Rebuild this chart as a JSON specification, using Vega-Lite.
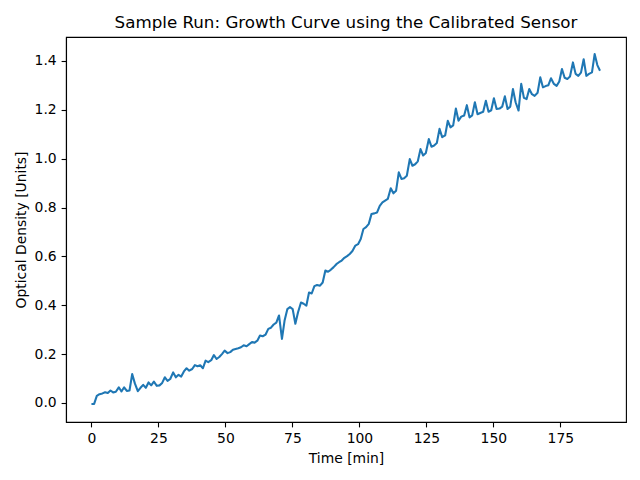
{
  "$schema": "https://vega.github.io/schema/vega-lite/v6.json",
  "autosize": {"type": "none"},
  "width": 560,
  "height": 385,
  "padding": {"left": 66, "top": 37, "right": 14, "bottom": 58},
  "background": "white",
  "title": {
    "text": "Sample Run: Growth Curve using the Calibrated Sensor",
    "font": "DejaVu Sans",
    "fontSize": 16.7,
    "fontWeight": "normal",
    "color": "black",
    "anchor": "middle",
    "offset": 5
  },
  "data": {
    "values": [
      {"t": 0, "v": -0.004}, {"t": 1.0, "v": -0.004}, {"t": 2.0, "v": 0.029}, {"t": 3.0, "v": 0.036},
      {"t": 4.1, "v": 0.039}, {"t": 5.1, "v": 0.044}, {"t": 6.1, "v": 0.041}, {"t": 7.1, "v": 0.051},
      {"t": 8.1, "v": 0.043}, {"t": 9.1, "v": 0.046}, {"t": 10.2, "v": 0.064}, {"t": 11.2, "v": 0.047},
      {"t": 12.2, "v": 0.064}, {"t": 13.2, "v": 0.049}, {"t": 14.2, "v": 0.051}, {"t": 15.2, "v": 0.118},
      {"t": 16.2, "v": 0.080}, {"t": 17.3, "v": 0.048}, {"t": 18.3, "v": 0.062}, {"t": 19.3, "v": 0.074},
      {"t": 20.3, "v": 0.062}, {"t": 21.3, "v": 0.084}, {"t": 22.3, "v": 0.072}, {"t": 23.3, "v": 0.087},
      {"t": 24.4, "v": 0.070}, {"t": 25.4, "v": 0.072}, {"t": 26.4, "v": 0.082}, {"t": 27.4, "v": 0.105},
      {"t": 28.4, "v": 0.090}, {"t": 29.4, "v": 0.098}, {"t": 30.5, "v": 0.125}, {"t": 31.5, "v": 0.105},
      {"t": 32.5, "v": 0.115}, {"t": 33.5, "v": 0.108}, {"t": 34.5, "v": 0.129}, {"t": 35.5, "v": 0.142},
      {"t": 36.5, "v": 0.132}, {"t": 37.6, "v": 0.139}, {"t": 38.6, "v": 0.155}, {"t": 39.6, "v": 0.150},
      {"t": 40.6, "v": 0.154}, {"t": 41.6, "v": 0.142}, {"t": 42.6, "v": 0.173}, {"t": 43.6, "v": 0.167},
      {"t": 44.7, "v": 0.175}, {"t": 45.7, "v": 0.196}, {"t": 46.7, "v": 0.180}, {"t": 47.7, "v": 0.188},
      {"t": 48.7, "v": 0.200}, {"t": 49.7, "v": 0.214}, {"t": 50.8, "v": 0.204}, {"t": 51.8, "v": 0.208},
      {"t": 52.8, "v": 0.218}, {"t": 53.8, "v": 0.221}, {"t": 54.8, "v": 0.224}, {"t": 55.8, "v": 0.228},
      {"t": 56.8, "v": 0.236}, {"t": 57.9, "v": 0.232}, {"t": 58.9, "v": 0.241}, {"t": 59.9, "v": 0.249},
      {"t": 60.9, "v": 0.247}, {"t": 61.9, "v": 0.255}, {"t": 62.9, "v": 0.276}, {"t": 63.9, "v": 0.273},
      {"t": 65.0, "v": 0.280}, {"t": 66.0, "v": 0.303}, {"t": 67.0, "v": 0.308}, {"t": 68.0, "v": 0.321},
      {"t": 69.0, "v": 0.329}, {"t": 70.0, "v": 0.358}, {"t": 71.1, "v": 0.262}, {"t": 72.1, "v": 0.339},
      {"t": 73.1, "v": 0.384}, {"t": 74.1, "v": 0.392}, {"t": 75.1, "v": 0.384}, {"t": 76.1, "v": 0.324},
      {"t": 77.1, "v": 0.371}, {"t": 78.2, "v": 0.411}, {"t": 79.2, "v": 0.406}, {"t": 80.2, "v": 0.398},
      {"t": 81.2, "v": 0.452}, {"t": 82.2, "v": 0.448}, {"t": 83.2, "v": 0.478}, {"t": 84.2, "v": 0.483},
      {"t": 85.3, "v": 0.480}, {"t": 86.3, "v": 0.493}, {"t": 87.3, "v": 0.542}, {"t": 88.3, "v": 0.537},
      {"t": 89.3, "v": 0.545}, {"t": 90.3, "v": 0.555}, {"t": 91.4, "v": 0.568}, {"t": 92.4, "v": 0.576},
      {"t": 93.4, "v": 0.583}, {"t": 94.4, "v": 0.594}, {"t": 95.4, "v": 0.601}, {"t": 96.4, "v": 0.610},
      {"t": 97.4, "v": 0.622}, {"t": 98.5, "v": 0.644}, {"t": 99.5, "v": 0.650}, {"t": 100.5, "v": 0.671},
      {"t": 101.5, "v": 0.712}, {"t": 102.5, "v": 0.720}, {"t": 103.5, "v": 0.733}, {"t": 104.5, "v": 0.773},
      {"t": 105.6, "v": 0.776}, {"t": 106.6, "v": 0.780}, {"t": 107.6, "v": 0.807}, {"t": 108.6, "v": 0.821},
      {"t": 109.6, "v": 0.828}, {"t": 110.6, "v": 0.835}, {"t": 111.7, "v": 0.879}, {"t": 112.7, "v": 0.858},
      {"t": 113.7, "v": 0.869}, {"t": 114.7, "v": 0.944}, {"t": 115.7, "v": 0.917}, {"t": 116.7, "v": 0.920},
      {"t": 117.7, "v": 0.930}, {"t": 118.8, "v": 0.998}, {"t": 119.8, "v": 0.971}, {"t": 120.8, "v": 0.977},
      {"t": 121.8, "v": 0.989}, {"t": 122.8, "v": 1.039}, {"t": 123.8, "v": 1.013}, {"t": 124.8, "v": 1.023},
      {"t": 125.9, "v": 1.080}, {"t": 126.9, "v": 1.049}, {"t": 127.9, "v": 1.054}, {"t": 128.9, "v": 1.064},
      {"t": 129.9, "v": 1.122}, {"t": 130.9, "v": 1.088}, {"t": 132.0, "v": 1.095}, {"t": 133.0, "v": 1.155},
      {"t": 134.0, "v": 1.128}, {"t": 135.0, "v": 1.136}, {"t": 136.0, "v": 1.205}, {"t": 137.0, "v": 1.155},
      {"t": 138.0, "v": 1.172}, {"t": 139.1, "v": 1.177}, {"t": 140.1, "v": 1.219}, {"t": 141.1, "v": 1.169},
      {"t": 142.1, "v": 1.177}, {"t": 143.1, "v": 1.231}, {"t": 144.1, "v": 1.182}, {"t": 145.1, "v": 1.187},
      {"t": 146.2, "v": 1.192}, {"t": 147.2, "v": 1.237}, {"t": 148.2, "v": 1.192}, {"t": 149.2, "v": 1.198},
      {"t": 150.2, "v": 1.247}, {"t": 151.2, "v": 1.203}, {"t": 152.3, "v": 1.205}, {"t": 153.3, "v": 1.213},
      {"t": 154.3, "v": 1.255}, {"t": 155.3, "v": 1.203}, {"t": 156.3, "v": 1.213}, {"t": 157.3, "v": 1.285},
      {"t": 158.3, "v": 1.231}, {"t": 159.4, "v": 1.197}, {"t": 160.4, "v": 1.306}, {"t": 161.4, "v": 1.249},
      {"t": 162.4, "v": 1.244}, {"t": 163.4, "v": 1.285}, {"t": 164.4, "v": 1.264}, {"t": 165.4, "v": 1.257},
      {"t": 166.5, "v": 1.270}, {"t": 167.5, "v": 1.333}, {"t": 168.5, "v": 1.292}, {"t": 169.5, "v": 1.297},
      {"t": 170.5, "v": 1.300}, {"t": 171.5, "v": 1.329}, {"t": 172.6, "v": 1.306}, {"t": 173.6, "v": 1.298},
      {"t": 174.6, "v": 1.316}, {"t": 175.6, "v": 1.367}, {"t": 176.6, "v": 1.331}, {"t": 177.6, "v": 1.326},
      {"t": 178.6, "v": 1.336}, {"t": 179.7, "v": 1.394}, {"t": 180.7, "v": 1.347}, {"t": 181.7, "v": 1.339},
      {"t": 182.7, "v": 1.352}, {"t": 183.7, "v": 1.407}, {"t": 184.7, "v": 1.339}, {"t": 185.7, "v": 1.347},
      {"t": 186.8, "v": 1.353}, {"t": 187.8, "v": 1.428}, {"t": 188.8, "v": 1.383}, {"t": 189.8, "v": 1.360}
    ]
  },
  "mark": {"type": "line", "color": "#1f77b4", "strokeWidth": 2.08, "strokeJoin": "round", "strokeCap": "butt", "clip": true},
  "encoding": {
    "x": {
      "field": "t",
      "type": "quantitative",
      "scale": {"domain": [-9.5, 199.5], "nice": false, "zero": false},
      "axis": {
        "title": "Time [min]",
        "values": [0, 25, 50, 75, 100, 125, 150, 175],
        "format": "d",
        "grid": false
      }
    },
    "y": {
      "field": "v",
      "type": "quantitative",
      "scale": {"domain": [-0.078, 1.498], "nice": false, "zero": false},
      "axis": {
        "title": "Optical Density [Units]",
        "values": [0, 0.2, 0.4, 0.6, 0.8, 1.0, 1.2, 1.4],
        "format": ".1f",
        "grid": false
      }
    }
  },
  "config": {
    "view": {"stroke": "black", "strokeWidth": 1.1},
    "axis": {
      "domainColor": "black",
      "domainWidth": 1.1,
      "tickColor": "black",
      "tickWidth": 1.1,
      "tickSize": 4.9,
      "labelFont": "DejaVu Sans",
      "labelFontSize": 13.9,
      "labelColor": "black",
      "labelPadding": 4.9,
      "titleFont": "DejaVu Sans",
      "titleFontSize": 13.9,
      "titleFontWeight": "normal",
      "titleColor": "black",
      "titlePadding": 5.6,
      "labelFlush": false,
      "labelOverlap": false
    }
  }
}
